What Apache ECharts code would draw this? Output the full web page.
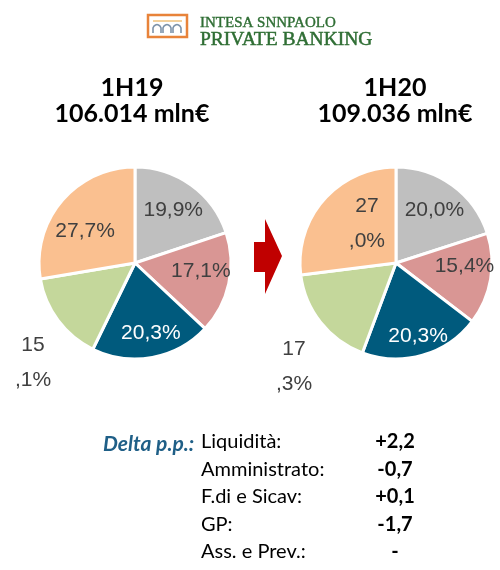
<!DOCTYPE html>
<html>
<head>
<meta charset="utf-8">
<script src="https://cdn.jsdelivr.net/npm/echarts@6/dist/echarts.min.js"></script>
<style>html,body{margin:0;padding:0;background:#fff}#c{width:500px;height:570px}</style>
</head>
<body>
<div id="c"></div>
<script>
const sliceNames = ['F.di e Sicav', 'GP', 'Ass. e Prev.', 'Liquidità', 'Amministrato'];
const values1H19 = [19.9, 17.1, 20.3, 15.1, 27.7];
const values1H20 = [20.0, 15.4, 20.3, 17.3, 27.0];
const labels1H19 = ['19,9%', '17,1%', '20,3%', '15\n,1%', '27,7%'];
const labels1H20 = ['20,0%', '15,4%', '20,3%', '17\n,3%', '27\n,0%'];
const sliceColors = ['#bfbfbf', '#d99694', '#005a7d', '#c4d79b', '#fac090'];
const periods = ['1H19', '1H20'];
const totals = ['106.014 mln€', '109.036 mln€'];
const deltaNames = ['Liquidità:', 'Amministrato:', 'F.di e Sicav:', 'GP:', 'Ass. e Prev.:'];
const deltaValues = ['+2,2', '-0,7', '+0,1', '-1,7', '-'];

const chart = echarts.init(document.getElementById('c'));
const centers = [[135, 263], [396, 263]];
const R = 96;
const labelFont = 'Liberation Sans, Arial, sans-serif';
const uiFont = 'Lato, "Open Sans", sans-serif';

function pieSeries(values, ci) {
  return {
    type: 'pie', center: centers[ci], radius: [0, R], startAngle: 90, clockwise: true,
    avoidLabelOverlap: false, silent: true,
    label: { show: false }, labelLine: { show: false },
    itemStyle: { borderColor: '#fff', borderWidth: 3 },
    emphasis: { disabled: true },
    data: values.map((v, i) => ({ name: sliceNames[i], value: v, itemStyle: { color: sliceColors[i] } }))
  };
}
// label-only series: transparent ring whose inside labels sit at 0.65 R
function labelSeries(values, labels, ci, outsidePos, tweaks) {
  return {
    type: 'pie', center: centers[ci], radius: [0, R * 1.3], startAngle: 90, clockwise: true,
    avoidLabelOverlap: false, silent: true, z: 5,
    itemStyle: { color: 'transparent', borderWidth: 0 },
    emphasis: { disabled: true },
    labelLine: { show: false },
    label: {
      show: true, position: 'inside', fontFamily: labelFont, fontSize: 21, color: '#404040', lineHeight: 35,
      formatter: p => labels[p.dataIndex]
    },
    labelLayout: function (p) {
      if (p.dataIndex === 3) {
        return { x: outsidePos[0], y: outsidePos[1], align: 'center', verticalAlign: 'middle' };
      }
      const t = tweaks[p.dataIndex] || [0, 0];
      return { dx: t[0], dy: t[1] };
    },
    data: values.map((v, i) => ({
      name: sliceNames[i], value: v,
      label: i === 2 ? { color: '#ffffff' } : {}
    }))
  };
}

const graphics = [];
// logo
graphics.push({ type: 'rect', shape: { x: 148, y: 15, width: 39, height: 22 }, style: { fill: '#fff', stroke: '#e8833a', lineWidth: 2.5 } });
graphics.push({ type: 'line', shape: { x1: 153, y1: 21, x2: 182, y2: 21 }, style: { stroke: '#f0c27a', lineWidth: 1.5 } });
[153, 163, 173].forEach(x => {
  graphics.push({ type: 'polyline', shape: { points: [[x, 33], [x, 28], [x + 1, 26], [x + 2.5, 25], [x + 4, 24.6], [x + 5.5, 25], [x + 7, 26], [x + 8, 28], [x + 8, 33]] }, style: { fill: 'none', stroke: '#7d93aa', lineWidth: 1.6 } });
});
graphics.push({ type: 'text', x: 200, y: 23, style: { text: 'INTESA SNNPAOLO', font: '15px "Liberation Serif", serif', fill: '#2f6e34', verticalAlign: 'middle', stroke: '#2f6e34', lineWidth: 0.4 } });
graphics.push({ type: 'text', x: 200, y: 40, style: { text: 'PRIVATE BANKING', font: '19.5px "Liberation Serif", serif', fill: '#2f6e34', verticalAlign: 'middle', stroke: '#2f6e34', lineWidth: 0.5 } });
// titles
const titleX = [132, 395];
for (let k = 0; k < 2; k++) {
  graphics.push({ type: 'text', x: titleX[k], y: 88, style: { text: periods[k], font: `bold 25px ${uiFont}`, fill: '#000', align: 'center', verticalAlign: 'middle' } });
  graphics.push({ type: 'text', x: titleX[k], y: 114, style: { text: totals[k], font: `bold 25px ${uiFont}`, fill: '#000', align: 'center', verticalAlign: 'middle' } });
}
// arrow
graphics.push({ type: 'polygon', shape: { points: [[254, 242], [265, 242], [265, 219], [282, 256], [265, 294], [265, 272], [254, 272]] }, style: { fill: '#c00000' } });
// delta table
graphics.push({ type: 'text', x: 103, y: 444, style: { text: 'Delta p.p.:', font: `italic bold 21px ${uiFont}`, fill: '#1f5f87', verticalAlign: 'middle' } });
deltaNames.forEach((n, i) => {
  const y = 442 + i * 27.5;
  graphics.push({ type: 'text', x: 201, y, style: { text: n, font: `20px ${uiFont}`, fill: '#000', verticalAlign: 'middle' } });
  graphics.push({ type: 'text', x: 395, y, style: { text: deltaValues[i], font: `bold 20px ${uiFont}`, fill: '#000', align: 'center', verticalAlign: 'middle' } });
});

chart.setOption({
  animation: false,
  series: [
    pieSeries(values1H19, 0),
    pieSeries(values1H20, 1),
    labelSeries(values1H19, labels1H19, 0, [33, 363], { 1: [2, -6], 2: [4, 6], 4: [0, 10] }),
    labelSeries(values1H20, labels1H20, 1, [294, 367], { 1: [4, -8], 2: [4, 10], 4: [20, 4] })
  ],
  graphic: graphics
});
</script>
</body>
</html>
